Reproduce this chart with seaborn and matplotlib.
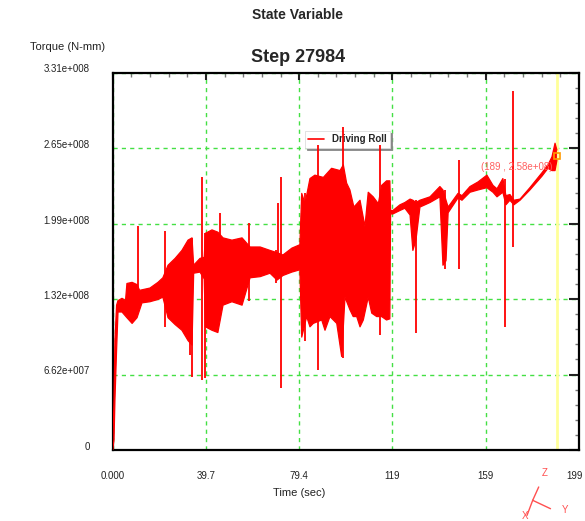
import numpy as np
import pandas as pd
import matplotlib
matplotlib.use("Agg")
import matplotlib.pyplot as plt
from matplotlib.lines import Line2D
from matplotlib.ticker import MultipleLocator, FixedLocator
from matplotlib.transforms import offset_copy
import seaborn as sns

# Upper envelope of the driving-roll torque (time in s, torque in 1e8 N-mm)
upper_t = [0.0, 0.6, 1.0, 1.7, 2.3, 4.0, 5.5, 6.1, 8.3, 10.4, 11.5, 15.9, 19.3,
           21.4, 23.6, 26.6, 29.5, 32.1, 33.8, 34.5, 37.2, 39.0, 39.5, 42.3,
           44.8, 47.0, 50.8, 55.1, 58.5, 62.8, 67.0, 70.0, 72.5, 76.3, 79.7,
           80.5, 81.9, 84.0, 86.1, 89.7, 93.2, 96.8, 98.2, 99.6, 101.0, 102.7,
           105.3, 107.4, 108.8, 110.9, 113.1, 114.5, 116.6, 118.0, 118.3,
           119.3, 122.3, 124.4, 126.6, 127.8, 129.1, 130.8, 135.1, 139.3,
           140.6, 141.9, 142.8, 147.0, 148.7, 152.1, 155.5, 159.3, 161.9,
           163.6, 166.1, 167.4, 169.1, 170.8, 173.4, 177.6, 182.7, 185.3,
           187.0, 188.3, 189.1]
upper_v = [0.00, 0.44, 0.96, 1.27, 1.31, 1.33, 1.31, 1.46, 1.47, 1.45, 1.40,
           1.42, 1.47, 1.51, 1.62, 1.68, 1.75, 1.84, 1.86, 1.62, 1.68, 1.69,
           1.90, 1.93, 1.91, 1.86, 1.84, 1.86, 1.78, 1.78, 1.75, 1.73, 1.71,
           1.77, 1.80, 2.25, 2.16, 2.38, 2.41, 2.39, 2.47, 2.45, 2.50, 2.34,
           2.28, 2.13, 2.19, 1.96, 2.26, 2.22, 2.16, 2.32, 2.36, 2.36, 2.10,
           2.10, 2.15, 2.17, 2.20, 2.19, 2.17, 2.19, 2.22, 2.31, 2.28, 2.19,
           2.13, 2.25, 2.23, 2.31, 2.35, 2.41, 2.32, 2.29, 2.38, 2.23, 2.24,
           2.19, 2.20, 2.30, 2.43, 2.50, 2.57, 2.69, 2.63]

# Lower envelope
lower_t = [0.0, 0.6, 1.0, 1.7, 2.3, 4.0, 6.1, 8.3, 10.4, 12.5, 15.9, 19.3,
           21.4, 23.6, 26.6, 29.5, 32.1, 33.8, 34.5, 37.2, 39.0, 39.5, 42.3,
           44.8, 47.0, 50.8, 55.1, 58.5, 62.8, 67.0, 70.0, 72.5, 76.3, 79.7,
           80.5, 82.6, 84.0, 85.4, 89.0, 90.4, 92.5, 95.4, 97.5, 98.9, 101.0,
           102.4, 103.9, 105.3, 106.7, 108.8, 110.3, 112.4, 114.5, 116.6,
           118.0, 118.3, 119.3, 122.3, 124.4, 126.6, 127.8, 129.1, 130.8,
           135.1, 139.3, 140.6, 141.9, 142.8, 147.0, 148.7, 152.1, 155.5,
           159.3, 161.9, 163.6, 166.1, 167.4, 169.1, 170.8, 173.4, 177.6,
           182.7, 185.3, 187.0, 188.3, 189.1]
lower_v = [0.00, 0.09, 0.44, 0.88, 1.21, 1.21, 1.16, 1.11, 1.16, 1.29, 1.30,
           1.32, 1.34, 1.16, 1.10, 1.05, 0.96, 0.92, 1.55, 1.56, 1.50, 1.08,
           1.05, 1.03, 1.27, 1.30, 1.27, 1.51, 1.52, 1.55, 1.49, 1.53, 1.56,
           1.58, 0.99, 1.17, 1.08, 1.11, 1.14, 1.05, 1.17, 1.11, 0.82, 1.34,
           1.23, 1.17, 1.17, 1.08, 1.14, 1.34, 1.20, 1.17, 1.17, 1.14, 1.15,
           2.07, 2.07, 2.10, 2.12, 2.06, 1.75, 1.84, 2.13, 2.17, 2.22, 1.62,
           1.66, 2.08, 2.21, 2.19, 2.26, 2.28, 2.30, 2.26, 2.22, 2.26, 2.15,
           2.19, 2.15, 2.19, 2.28, 2.40, 2.47, 2.45, 2.45, 2.54]

# Isolated torque spikes: time, peak, trough (1e8 N-mm)
spike_t = [10.8, 22.3, 32.9, 33.8, 38.0, 39.3, 45.7, 58.0, 69.5, 70.4, 71.7,
           81.9, 87.4, 98.0, 113.8, 129.1, 141.5, 147.4, 167.0, 170.4]
spike_hi = [1.96, 1.92, 1.84, 1.86, 2.39, 1.90, 2.08, 1.99, 1.75, 2.17, 2.39,
            2.25, 2.67, 2.83, 2.67, 2.19, 2.28, 2.54, 2.38, 3.15]
spike_lo = [1.27, 1.08, 0.83, 0.64, 0.61, 0.63, 1.31, 1.31, 1.46, 1.50, 0.54,
            0.96, 0.70, 0.81, 1.01, 1.03, 1.59, 1.59, 1.08, 1.78]

# Probed point
probe_t = 189
probe_torque = 2.58e8

x_ticks = [0.0, 39.7, 79.4, 119.1, 158.8, 198.5]
x_tick_labels = ["0.000", "39.7", "79.4", "119", "159", "199"]
y_ticks = [0.0, 0.662e8, 1.324e8, 1.986e8, 2.648e8, 3.31e8]
y_tick_labels = ["0", "6.62e+007", "1.32e+008", "1.99e+008", "2.65e+008", "3.31e+008"]

SCALE = 1e8
RED = "#ff0000"
GRID = "#44e044"

sns.set_style("white")
plt.rcParams["font.family"] = ["Liberation Sans", "DejaVu Sans"]

W, H = 585, 521
fig = plt.figure(figsize=(W / 100, H / 100), dpi=100)
ax = fig.add_axes([112.6 / W, 1 - 450 / H, (579 - 112.6) / W, (450 - 72.5) / H])

env = pd.DataFrame({
    "Time": upper_t + lower_t,
    "Torque": [v * SCALE for v in upper_v] + [v * SCALE for v in lower_v],
    "edge": ["upper"] * len(upper_t) + ["lower"] * len(lower_t),
})

# solid band between the two envelopes
poly_t = list(upper_t) + list(lower_t[::-1])
poly_v = [v * SCALE for v in upper_v] + [v * SCALE for v in lower_v[::-1]]
ax.fill(poly_t, poly_v, color=RED, lw=0, zorder=2)
sns.lineplot(data=env, x="Time", y="Torque", units="edge", estimator=None,
             sort=False, color=RED, lw=0.9, ax=ax, legend=False, zorder=3)
ax.vlines(spike_t, np.array(spike_lo) * SCALE, np.array(spike_hi) * SCALE,
          color=RED, lw=1.3, zorder=3)

# probe cursor
ax.axvline(probe_t, color="#ffff99", lw=2, zorder=1.5)
ax.plot([probe_t], [probe_torque], marker="s", ms=5, mfc="none",
        mec="#ff9900", mew=1.2, zorder=4)
ax.text(172.1, 2.478e8, f"({probe_t} , {probe_torque:.2e})",
        color="#ff6060", fontsize=7, ha="center", va="center", zorder=4)

ax.set_xlim(0, 198.5)
ax.set_ylim(0, 3.31e8)

ax.xaxis.set_major_locator(FixedLocator(x_ticks))
ax.set_xticklabels(x_tick_labels)
ax.xaxis.set_minor_locator(MultipleLocator(39.7 / 5))
ax.yaxis.set_major_locator(FixedLocator(y_ticks))
ax.set_yticklabels(y_tick_labels)
ax.yaxis.set_minor_locator(MultipleLocator(0.662e8 / 5))

ax.tick_params(which="both", direction="in", top=True, right=True,
               labelsize=7, labelcolor="#222222")
ax.tick_params(axis="x", which="major", length=5, width=1.5, color="#222222", pad=15)
ax.tick_params(axis="y", which="major", length=7, width=1.5, color="#222222", pad=16.5)
ax.tick_params(which="minor", length=3, width=1, color="#777777")
for lbl in ax.get_yticklabels():
    lbl.set_verticalalignment("baseline")
# keep the last time label inside the canvas
last = ax.get_xticklabels()[-1]
last.set_transform(offset_copy(last.get_transform(), fig=fig, x=-4, units="dots"))

ax.grid(True, which="major", color=GRID, ls=(0, (3, 3)), lw=1, zorder=0)
ax.set_axisbelow(True)
for sp in ax.spines.values():
    sp.set_color("black")
    sp.set_linewidth(1.6)
    sp.set_visible(True)

ax.set_xlabel("")
ax.set_ylabel("")

# legend
handle = Line2D([0], [0], color=RED, lw=1.2)
leg = ax.legend([handle], ["Driving Roll"], loc="upper left",
                bbox_to_anchor=(305 / W, 1 - 131 / H), bbox_transform=fig.transFigure,
                borderaxespad=0, frameon=True, fancybox=False,
                shadow={"color": "#888888", "alpha": 1, "ox": 1.5, "oy": -1.5},
                prop={"size": 7, "weight": "bold"}, handlelength=1.6,
                handletextpad=0.8, borderpad=0.35)
leg.get_frame().set_edgecolor("#dddddd")
leg.get_frame().set_linewidth(0.6)
leg.set_zorder(2.5)

# figure texts
fig.text(297 / W, 1 - 15 / H, "State Variable", ha="center", va="center",
         fontsize=10, fontweight="bold")
fig.text(298 / W, 1 - 57 / H, "Step 27984", ha="center", va="center",
         fontsize=13, fontweight="bold")
fig.text(68 / W, 1 - 47 / H, "Torque (N-mm)", ha="center", va="center",
         fontsize=8, color="#222222")
fig.text(299 / W, 1 - 493 / H, "Time (sec)", ha="center", va="center",
         fontsize=8, color="#222222")

# orientation triad
TRI = "#ff5050"
def fpt(px, py):
    return px / W, 1 - py / H
o = fpt(532.7, 500.3)
for end in [fpt(538.7, 487), fpt(550.5, 508.7), fpt(527, 515.4)]:
    fig.add_artist(Line2D([o[0], end[0]], [o[1], end[1]], color=TRI, lw=1,
                          transform=fig.transFigure))
for lab, (px, py) in {"Z": (544.4, 473.5), "Y": (564.9, 509.7), "X": (525.3, 516.4)}.items():
    x, y = fpt(px, py)
    fig.text(x, y, lab, color=TRI, fontsize=7, ha="center", va="center")

fig.savefig("out.png", dpi=100)
